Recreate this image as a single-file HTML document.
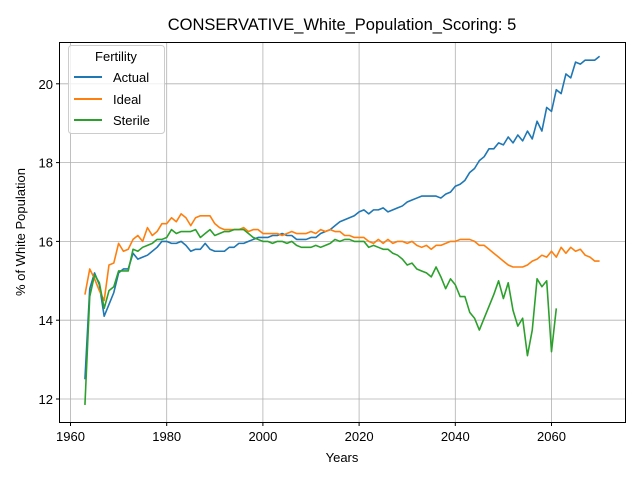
<!DOCTYPE html>
<html><head><meta charset="utf-8"><style>
body{margin:0;background:#fff}
svg{font-family:"Liberation Sans","DejaVu Sans",sans-serif}
</style></head><body>
<svg id="chart" width="640" height="480" viewBox="0 0 640 480">
<rect width="640" height="480" fill="#fff"/>
<text x="342" y="30" text-anchor="middle" font-size="16.5">CONSERVATIVE_White_Population_Scoring: 5</text>
<g id="grid"></g>
<g id="series"></g>
<rect x="59.5" y="42.5" width="566" height="380" fill="none" stroke="#000" stroke-width="1"/>
<g id="ticks"></g>
<text x="342" y="462" text-anchor="middle" font-size="13">Years</text>
<text transform="translate(25,232) rotate(-90)" text-anchor="middle" font-size="13">% of White Population</text>
<g>
<rect x="68.5" y="45.5" width="96" height="88" rx="3" fill="#fff" fill-opacity="0.8" stroke="#ccc"/>
<text x="116" y="61" text-anchor="middle" font-size="13">Fertility</text>
<g><line x1="74" y1="77" x2="102" y2="77" stroke="#1f77b4" stroke-width="2"/><text x="113" y="82" font-size="13">Actual</text></g>
<g><line x1="74" y1="99" x2="102" y2="99" stroke="#ff7f0e" stroke-width="2"/><text x="113" y="104" font-size="13">Ideal</text></g>
<g><line x1="74" y1="120" x2="102" y2="120" stroke="#2ca02c" stroke-width="2"/><text x="113" y="125" font-size="13">Sterile</text></g>
</g>
</svg>
<script>
const startYear = 1963;
const actual = [12.5,14.8,15.2,14.9,14.1,14.4,14.7,15.2,15.3,15.3,15.7,15.55,15.6,15.65,15.75,15.85,16.0,16.0,15.95,15.95,16.0,15.9,15.75,15.8,15.8,15.95,15.8,15.75,15.75,15.75,15.85,15.85,15.95,15.95,16.0,16.05,16.1,16.1,16.1,16.15,16.15,16.2,16.15,16.15,16.05,16.05,16.05,16.1,16.1,16.2,16.25,16.3,16.4,16.5,16.55,16.6,16.65,16.75,16.8,16.7,16.8,16.8,16.85,16.75,16.8,16.85,16.9,17.0,17.05,17.1,17.15,17.15,17.15,17.15,17.1,17.2,17.25,17.4,17.45,17.55,17.75,17.85,18.05,18.15,18.35,18.35,18.5,18.45,18.65,18.5,18.7,18.55,18.8,18.6,19.05,18.8,19.4,19.3,19.85,19.75,20.25,20.15,20.55,20.5,20.6,20.6,20.6,20.7];
const ideal = [14.65,15.3,15.05,14.75,14.5,15.4,15.45,15.95,15.75,15.8,16.05,16.15,16.0,16.35,16.15,16.25,16.45,16.45,16.6,16.5,16.7,16.6,16.4,16.6,16.65,16.65,16.65,16.45,16.35,16.3,16.3,16.3,16.3,16.35,16.25,16.3,16.3,16.2,16.2,16.2,16.2,16.15,16.2,16.25,16.2,16.2,16.2,16.25,16.2,16.3,16.25,16.3,16.25,16.25,16.15,16.15,16.1,16.1,16.1,16.0,15.95,16.05,15.95,16.05,15.95,16.0,16.0,15.95,16.0,15.9,15.85,15.9,15.8,15.9,15.9,15.95,16.0,16.0,16.05,16.05,16.05,16.0,15.9,15.9,15.8,15.7,15.6,15.5,15.4,15.35,15.35,15.35,15.4,15.5,15.55,15.65,15.6,15.75,15.6,15.85,15.7,15.85,15.75,15.8,15.65,15.6,15.5,15.5];
const sterile = [11.85,14.6,15.15,14.95,14.3,14.75,14.85,15.25,15.25,15.25,15.8,15.75,15.85,15.9,15.95,16.05,16.05,16.1,16.3,16.2,16.25,16.25,16.25,16.3,16.1,16.2,16.3,16.15,16.2,16.25,16.25,16.3,16.3,16.3,16.2,16.1,16.05,16.0,16.0,15.95,16.0,16.0,15.95,16.0,15.9,15.85,15.85,15.85,15.9,15.85,15.9,15.95,16.05,16.0,16.05,16.05,16.0,16.0,16.0,15.85,15.9,15.85,15.8,15.8,15.7,15.65,15.55,15.4,15.45,15.3,15.25,15.2,15.1,15.35,15.1,14.8,15.05,14.9,14.6,14.6,14.2,14.05,13.75,14.05,14.35,14.65,15.0,14.55,14.95,14.25,13.85,14.05,13.1,13.75,15.05,14.85,15.0,13.2,14.3];
const xTicks = [1960,1980,2000,2020,2040,2060];
const yTicks = [12,14,16,18,20];

const NS='http://www.w3.org/2000/svg';
function sx(yr){return 70.5+(yr-1960)*4.81;}
function sy(v){return 399-(v-12)*39.4;}
const grid=document.getElementById('grid'), ticks=document.getElementById('ticks'), series=document.getElementById('series');
function mk(tag,attrs,parent){const e=document.createElementNS(NS,tag);for(const k in attrs)e.setAttribute(k,attrs[k]);parent.appendChild(e);return e;}
xTicks.forEach(t=>{
  const x=sx(t);
  const g=mk('line',{x1:x,x2:x,y1:42.5,y2:422.5,stroke:'#b0b0b0','stroke-width':0.8},grid);
  
  
  mk('line',{x1:x,x2:x,y1:422.5,y2:426,stroke:'#000'},ticks);
  const tx=mk('text',{x:x,y:441,'text-anchor':'middle','font-size':13},ticks);
  tx.textContent=t;
  
  
});
yTicks.forEach(t=>{
  const y=sy(t);
  const g=mk('line',{x1:59.5,x2:625.5,y1:y,y2:y,stroke:'#b0b0b0','stroke-width':0.8},grid);
  
  
  mk('line',{x1:56,x2:59.5,y1:y,y2:y,stroke:'#000'},ticks);
  const tx=mk('text',{x:53,y:y+5,'text-anchor':'end','font-size':13},ticks);
  tx.textContent=t;
  
  
});
function line(arr,color,name){
  const pts=arr.map((v,i)=>sx(startYear+i).toFixed(2)+','+sy(v).toFixed(2)).join(' ');
  const p=mk('polyline',{points:pts,fill:'none',stroke:color,'stroke-width':1.6,'stroke-linejoin':'round'},series);
  
  
}
line(actual,'#1f77b4','actual-line');
line(ideal,'#ff7f0e','ideal-line');
line(sterile,'#2ca02c','sterile-line');
</script>
</body></html>
